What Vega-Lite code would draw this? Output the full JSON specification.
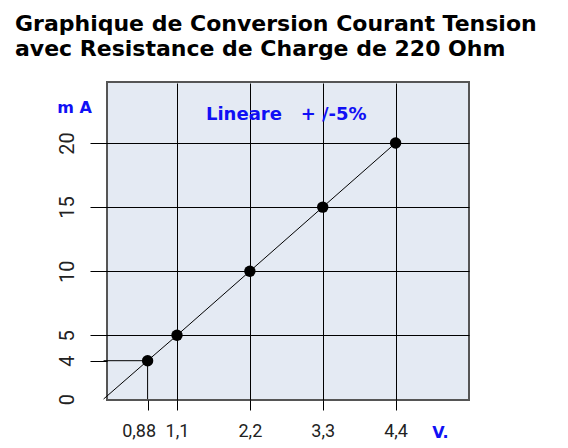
{
  "$schema": "https://vega.github.io/schema/vega-lite/v6.json",
  "width": 362,
  "height": 318,
  "autosize": {"type": "none"},
  "padding": {"left": 107, "top": 82, "right": 99, "bottom": 48},
  "background": "white",
  "title": {
    "text": ["Graphique de Conversion Courant Tension", "avec Resistance de Charge de 220 Ohm"],
    "anchor": "start",
    "frame": "group",
    "font": "DejaVu Sans",
    "fontWeight": "bold",
    "fontSize": 22,
    "color": "#000000",
    "lineHeight": 25,
    "baseline": "alphabetic",
    "offset": 54,
    "dx": -92,
    "dy": 50
  },
  "datasets": {
    "curve": [
      {"V": 0, "mA": 0},
      {"V": 0.88, "mA": 4},
      {"V": 1.1, "mA": 5},
      {"V": 2.2, "mA": 10},
      {"V": 3.3, "mA": 15},
      {"V": 4.4, "mA": 20}
    ],
    "points": [
      {"V": 0.88, "mA": 4},
      {"V": 1.1, "mA": 5},
      {"V": 2.2, "mA": 10},
      {"V": 3.3, "mA": 15},
      {"V": 4.4, "mA": 20}
    ],
    "guides": [
      {"V": 0, "V2": 0.88, "mA": 4, "mA2": 4},
      {"V": 0.88, "V2": 0.88, "mA": 0, "mA2": 4}
    ],
    "notes": [
      {"V": 2.75, "mA": 21.8, "label": "Lineare\u00a0\u00a0 +\u00a0/-5%"}
    ]
  },
  "layer": [
    {
      "data": {"name": "curve"},
      "mark": {"type": "line", "color": "#000000", "strokeWidth": 1},
      "encoding": {
        "x": {
          "field": "V",
          "type": "quantitative",
          "scale": {"domain": [0, 0.88, 1.1, 4.4, 5.51], "range": [-3.4, 40.6, 70, 288.6, 362], "nice": false, "zero": false},
          "axis": {
            "values": [0.88, 1.1, 2.2, 3.3, 4.4],
            "grid": true,
            "gridColor": "#000000",
            "gridWidth": 1,
            "gridOpacity": {"condition": {"test": "datum.value == 0.88", "value": 0}, "value": 1},
            "domain": false,
            "ticks": true,
            "tickColor": "#000000",
            "tickWidth": 1,
            "tickSize": 10,
            "labelExpr": "replace(toString(datum.value), '.', ',')",
            "labelFont": "Roboto",
            "labelFontSize": 18,
            "labelColor": "#222222",
            "labelPadding": 12,
            "labelOffset": {"condition": {"test": "datum.value == 0.88", "value": -9}, "value": 0},
            "labelOverlap": false,
            "title": "V.",
            "titleX": 333,
            "titleY": 37,
            "titleAlign": "center",
            "titleBaseline": "alphabetic",
            "titleFont": "DejaVu Sans",
            "titleFontWeight": "bold",
            "titleFontSize": 16,
            "titleColor": "#1010f5"
          }
        },
        "y": {
          "field": "mA",
          "type": "quantitative",
          "scale": {"domain": [0, 4, 5, 20, 24.77], "range": [317, 278.7, 253.3, 61, 0], "nice": false, "zero": false},
          "axis": {
            "values": [0, 4, 5, 10, 15, 20],
            "grid": true,
            "gridColor": "#000000",
            "gridWidth": 1,
            "gridOpacity": {"condition": {"test": "datum.value <= 4", "value": 0}, "value": 1},
            "domain": false,
            "ticks": true,
            "tickColor": "#000000",
            "tickWidth": 1,
            "tickSize": 17,
            "tickOpacity": {"condition": {"test": "datum.value == 0", "value": 0}, "value": 1},
            "labelAngle": -90,
            "labelAlign": "center",
            "labelBaseline": "alphabetic",
            "labelFont": "Roboto",
            "labelFontSize": 20,
            "labelColor": "#222222",
            "labelPadding": 17,
            "labelOverlap": false,
            "title": "m A",
            "titleAngle": 0,
            "titleX": -33,
            "titleY": 30,
            "titleAlign": "center",
            "titleBaseline": "alphabetic",
            "titleFont": "DejaVu Sans",
            "titleFontWeight": "bold",
            "titleFontSize": 16,
            "titleColor": "#1010f5"
          }
        }
      }
    },
    {
      "data": {"name": "guides"},
      "mark": {"type": "rule", "color": "#000000", "strokeWidth": 1},
      "encoding": {
        "x": {"field": "V", "type": "quantitative"},
        "x2": {"field": "V2"},
        "y": {"field": "mA", "type": "quantitative"},
        "y2": {"field": "mA2"}
      }
    },
    {
      "data": {"name": "points"},
      "mark": {"type": "circle", "color": "#000000", "opacity": 1, "size": 130},
      "encoding": {
        "x": {"field": "V", "type": "quantitative"},
        "y": {"field": "mA", "type": "quantitative"}
      }
    },
    {
      "data": {"name": "notes"},
      "mark": {"type": "text", "font": "DejaVu Sans", "fontWeight": "bold", "fontSize": 18, "color": "#1010f5", "align": "center", "baseline": "alphabetic"},
      "encoding": {
        "x": {"field": "V", "type": "quantitative"},
        "y": {"field": "mA", "type": "quantitative"},
        "text": {"field": "label"}
      }
    }
  ],
  "config": {
    "view": {"fill": "#e4eaf3", "stroke": "#555555", "strokeWidth": 2}
  }
}
